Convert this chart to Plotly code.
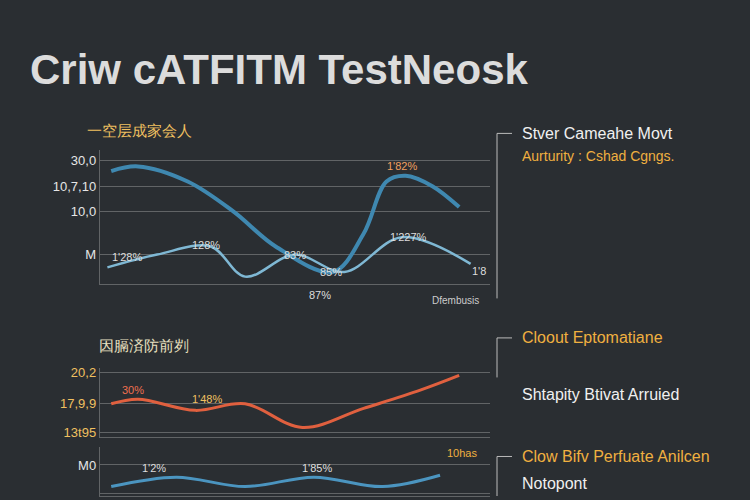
import plotly.graph_objects as go

bg = "#2a2e32"
# top panel
top_x = [0.1, 0.8, 2.1, 3.3, 4.4, 5.9, 6.7, 7.3, 7.8, 8.5, 9.2]
top_y = [87, 91, 78, 52, 22, 0, 33, 78, 83, 74, 56]
top2_x = [0, 1.3, 2.7, 3.6, 4.9, 6.2, 7.7, 9.5]
top2_y = [4, 15, 22, -4, 15, 0, 30, 7]
top_ticks = [96, 74, 52, 15]
top_ticktext = ["30,0", "10,7,10", "10,0", "M"]
# middle panel
mid_x = [0.1, 0.8, 2.3, 3.6, 5.1, 6.7, 8.2, 9.2]
mid_y = [50, 57, 40, 50, 14, 43, 71, 93]
mid_ticks = [97, 50, 6]
mid_ticktext = ["20,2", "17,9,9", "13t95"]
# bottom panel
bot_x = [0.1, 1.8, 3.6, 5.4, 7.2, 8.7]
bot_y = [20, 40, 20, 40, 20, 44]
bot_ticks = [66, 6]
bot_ticktext = ["M0", "57,0"]

fig = go.Figure()
fig.add_trace(go.Scatter(x=top_x, y=top_y, mode="lines", line=dict(color="#3f88b0", width=4, shape="spline"), xaxis="x", yaxis="y"))
fig.add_trace(go.Scatter(x=top2_x, y=top2_y, mode="lines", line=dict(color="#7fb8d4", width=2.5, shape="spline"), xaxis="x", yaxis="y"))
fig.add_trace(go.Scatter(x=mid_x, y=mid_y, mode="lines", line=dict(color="#e0603f", width=3, shape="spline"), xaxis="x2", yaxis="y2"))
fig.add_trace(go.Scatter(x=bot_x, y=bot_y, mode="lines", line=dict(color="#4b95c0", width=3, shape="spline"), xaxis="x3", yaxis="y3"))

grid = "rgba(200,200,200,0.35)"
ax = dict(showgrid=False, zeroline=False, showticklabels=False, range=[-0.2, 10], showline=True, linecolor=grid)
fig.update_layout(
    width=750, height=500, paper_bgcolor=bg, plot_bgcolor=bg, showlegend=False,
    margin=dict(l=0, r=0, t=0, b=0),
    font=dict(family="Liberation Sans", color="#dddddd"),
    xaxis=dict(ax, domain=[0.133, 0.653], anchor="y"),
    yaxis=dict(domain=[0.43, 0.70], range=[-10, 105], tickvals=top_ticks, ticktext=top_ticktext, gridcolor=grid, zeroline=False, showline=True, linecolor=grid, tickfont=dict(size=13, color="#e6e6e6"), anchor="x"),
    xaxis2=dict(ax, domain=[0.133, 0.653], anchor="y2"),
    yaxis2=dict(domain=[0.12, 0.26], range=[0, 105], tickvals=mid_ticks, ticktext=mid_ticktext, gridcolor=grid, zeroline=False, showline=True, linecolor=grid, tickfont=dict(size=13, color="#f0c060"), anchor="x2"),
    xaxis3=dict(ax, domain=[0.133, 0.653], anchor="y3"),
    yaxis3=dict(domain=[0.0, 0.10], range=[0, 105], tickvals=bot_ticks, ticktext=bot_ticktext, gridcolor=grid, zeroline=False, showline=True, linecolor=grid, tickfont=dict(size=13, color="#e6e6e6"), anchor="x3"),
)

def txt(x, y, t, size=12, color="#e6e6e6", anchor="left"):
    fig.add_annotation(x=x/750, y=1-y/500, xref="paper", yref="paper", text=t, showarrow=False,
                       font=dict(size=size, color=color), xanchor=anchor, yanchor="middle")

txt(28, 68, "<b>Criw cATFITM TestNeosk</b>", 42, "#dcdcdc")
txt(85, 130, "一空层成家会人", 15, "#f0c060")
txt(97, 348, "因膈済防前刿", 15, "#e8e0c0")
txt(520, 133, "Stver Cameahe Movt", 16, "#f0f0f0")
txt(520, 156, "Aurturity : Cshad Cgngs.", 14, "#f0b040")
txt(520, 340, "Cloout Eptomatiane", 16, "#f0b040")
txt(520, 397, "Shtapity Btivat Arruied", 16, "#f0f0f0")
txt(520, 460, "Clow Bifv Perfuate Anilcen", 16, "#f0b040")
txt(520, 487, "Notopont", 16, "#f0f0f0")
txt(430, 302, "Dfembusis", 10, "#cccccc")
for x, y, t, c in [(110, 258, "1'28%", "#dddddd"), (190, 246, "128%", "#dddddd"), (282, 256, "83%", "#dddddd"),
                   (318, 273, "85%", "#dddddd"), (307, 297, "87%", "#dddddd"), (388, 238, "1'227%", "#dddddd"),
                   (385, 166, "1'82%", "#f0a060"), (470, 272, "1'8", "#dddddd"), (120, 393, "30%", "#f07050"),
                   (190, 402, "1'48%", "#f0c060"), (140, 472, "1'2%", "#dddddd"), (300, 472, "1'85%", "#dddddd"),
                   (445, 456, "10has", "#f0b040")]:
    txt(x, y, t, 11, c)

# right brackets
for (x0, y0, y1) in [(497, 133, 300), (497, 340, 380), (497, 460, 500)]:
    fig.add_shape(type="line", xref="paper", yref="paper", x0=x0/750, x1=x0/750, y0=1-y0/500, y1=1-y1/500, line=dict(color="#bbbbbb", width=1))
    fig.add_shape(type="line", xref="paper", yref="paper", x0=x0/750, x1=512/750, y0=1-y0/500, y1=1-y0/500, line=dict(color="#bbbbbb", width=1))

fig.write_html("out.html", config={"displayModeBar": False},
               post_script="document.body.style.margin='0';document.body.style.background='#2a2e32';")
